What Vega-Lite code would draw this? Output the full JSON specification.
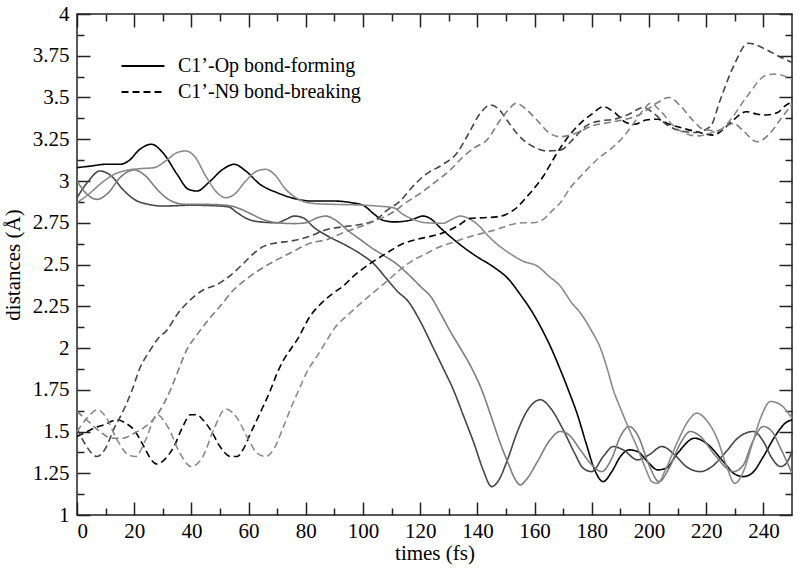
{
  "$schema": "https://vega.github.io/schema/vega-lite/v6.json",
  "width": 715,
  "height": 501,
  "autosize": {"type": "none"},
  "padding": {"left": 77, "top": 14, "right": 8, "bottom": 53},
  "background": "white",
  "config": {
    "view": {"stroke": "#222222", "strokeWidth": 1.5},
    "font": "Liberation Serif",
    "axis": {"domain": false, "grid": false, "tickColor": "#222222", "tickWidth": 1.5, "labelFont": "Liberation Serif", "labelFontSize": 21, "labelColor": "#000000", "titleFont": "Liberation Serif", "titleFontSize": 21, "titleFontWeight": "normal", "titleColor": "#000000"}
  },
  "datasets": {
    "curves": [
      {"run":"C","bond":"Op","t":0,"d":3.08},{"run":"C","bond":"Op","t":5,"d":3.09},{"run":"C","bond":"Op","t":10,"d":3.1},{"run":"C","bond":"Op","t":15,"d":3.1},{"run":"C","bond":"Op","t":18,"d":3.12},{"run":"C","bond":"Op","t":22,"d":3.19},{"run":"C","bond":"Op","t":26,"d":3.22},{"run":"C","bond":"Op","t":30,"d":3.17},{"run":"C","bond":"Op","t":35,"d":3.04},{"run":"C","bond":"Op","t":39,"d":2.95},{"run":"C","bond":"Op","t":42,"d":2.94},{"run":"C","bond":"Op","t":46,"d":2.99},{"run":"C","bond":"Op","t":51,"d":3.07},{"run":"C","bond":"Op","t":55,"d":3.1},{"run":"C","bond":"Op","t":59,"d":3.06},{"run":"C","bond":"Op","t":64,"d":2.98},{"run":"C","bond":"Op","t":70,"d":2.93},{"run":"C","bond":"Op","t":76,"d":2.895},{"run":"C","bond":"Op","t":82,"d":2.88},{"run":"C","bond":"Op","t":90,"d":2.88},{"run":"C","bond":"Op","t":96,"d":2.87},{"run":"C","bond":"Op","t":100,"d":2.855},{"run":"C","bond":"Op","t":104,"d":2.8},{"run":"C","bond":"Op","t":107,"d":2.765},{"run":"C","bond":"Op","t":111,"d":2.755},{"run":"C","bond":"Op","t":116.5,"d":2.765},{"run":"C","bond":"Op","t":121,"d":2.79},{"run":"C","bond":"Op","t":124,"d":2.77},{"run":"C","bond":"Op","t":127,"d":2.72},{"run":"C","bond":"Op","t":131,"d":2.66},{"run":"C","bond":"Op","t":135,"d":2.605},{"run":"C","bond":"Op","t":140,"d":2.545},{"run":"C","bond":"Op","t":145.5,"d":2.487},{"run":"C","bond":"Op","t":151,"d":2.41},{"run":"C","bond":"Op","t":155,"d":2.32},{"run":"C","bond":"Op","t":159,"d":2.22},{"run":"C","bond":"Op","t":162,"d":2.13},{"run":"C","bond":"Op","t":165.5,"d":2.01},{"run":"C","bond":"Op","t":169,"d":1.87},{"run":"C","bond":"Op","t":172,"d":1.74},{"run":"C","bond":"Op","t":175,"d":1.6},{"run":"C","bond":"Op","t":178,"d":1.43},{"run":"C","bond":"Op","t":181,"d":1.27},{"run":"C","bond":"Op","t":184,"d":1.2},{"run":"C","bond":"Op","t":187,"d":1.26},{"run":"C","bond":"Op","t":190,"d":1.35},{"run":"C","bond":"Op","t":193,"d":1.39},{"run":"C","bond":"Op","t":196,"d":1.38},{"run":"C","bond":"Op","t":200,"d":1.31},{"run":"C","bond":"Op","t":203,"d":1.27},{"run":"C","bond":"Op","t":206,"d":1.28},{"run":"C","bond":"Op","t":210,"d":1.37},{"run":"C","bond":"Op","t":216,"d":1.46},{"run":"C","bond":"Op","t":220,"d":1.43},{"run":"C","bond":"Op","t":226,"d":1.32},{"run":"C","bond":"Op","t":230,"d":1.245},{"run":"C","bond":"Op","t":233,"d":1.23},{"run":"C","bond":"Op","t":236,"d":1.25},{"run":"C","bond":"Op","t":240,"d":1.35},{"run":"C","bond":"Op","t":244,"d":1.47},{"run":"C","bond":"Op","t":248,"d":1.555},{"run":"C","bond":"Op","t":250,"d":1.57},
      {"run":"A","bond":"Op","t":0,"d":2.9},{"run":"A","bond":"Op","t":4,"d":3.0},{"run":"A","bond":"Op","t":8,"d":3.06},{"run":"A","bond":"Op","t":12,"d":3.03},{"run":"A","bond":"Op","t":16,"d":2.95},{"run":"A","bond":"Op","t":20,"d":2.89},{"run":"A","bond":"Op","t":25,"d":2.86},{"run":"A","bond":"Op","t":30,"d":2.85},{"run":"A","bond":"Op","t":40,"d":2.855},{"run":"A","bond":"Op","t":50,"d":2.85},{"run":"A","bond":"Op","t":53,"d":2.845},{"run":"A","bond":"Op","t":56,"d":2.81},{"run":"A","bond":"Op","t":60,"d":2.77},{"run":"A","bond":"Op","t":64,"d":2.755},{"run":"A","bond":"Op","t":70,"d":2.75},{"run":"A","bond":"Op","t":73,"d":2.77},{"run":"A","bond":"Op","t":76,"d":2.79},{"run":"A","bond":"Op","t":79,"d":2.78},{"run":"A","bond":"Op","t":83,"d":2.72},{"run":"A","bond":"Op","t":88,"d":2.667},{"run":"A","bond":"Op","t":94,"d":2.615},{"run":"A","bond":"Op","t":99,"d":2.565},{"run":"A","bond":"Op","t":104,"d":2.5},{"run":"A","bond":"Op","t":108,"d":2.42},{"run":"A","bond":"Op","t":112,"d":2.34},{"run":"A","bond":"Op","t":116,"d":2.275},{"run":"A","bond":"Op","t":120,"d":2.16},{"run":"A","bond":"Op","t":124.6,"d":2.0},{"run":"A","bond":"Op","t":128,"d":1.88},{"run":"A","bond":"Op","t":131.6,"d":1.75},{"run":"A","bond":"Op","t":135,"d":1.6},{"run":"A","bond":"Op","t":139,"d":1.42},{"run":"A","bond":"Op","t":142,"d":1.27},{"run":"A","bond":"Op","t":145,"d":1.17},{"run":"A","bond":"Op","t":147.5,"d":1.21},{"run":"A","bond":"Op","t":150.5,"d":1.33},{"run":"A","bond":"Op","t":154,"d":1.5},{"run":"A","bond":"Op","t":158,"d":1.64},{"run":"A","bond":"Op","t":162,"d":1.69},{"run":"A","bond":"Op","t":166,"d":1.63},{"run":"A","bond":"Op","t":170,"d":1.51},{"run":"A","bond":"Op","t":174,"d":1.37},{"run":"A","bond":"Op","t":177,"d":1.28},{"run":"A","bond":"Op","t":180,"d":1.26},{"run":"A","bond":"Op","t":184,"d":1.35},{"run":"A","bond":"Op","t":187.5,"d":1.41},{"run":"A","bond":"Op","t":191,"d":1.39},{"run":"A","bond":"Op","t":196,"d":1.33},{"run":"A","bond":"Op","t":200,"d":1.36},{"run":"A","bond":"Op","t":204.5,"d":1.41},{"run":"A","bond":"Op","t":209,"d":1.36},{"run":"A","bond":"Op","t":213,"d":1.29},{"run":"A","bond":"Op","t":218,"d":1.26},{"run":"A","bond":"Op","t":222,"d":1.29},{"run":"A","bond":"Op","t":227,"d":1.38},{"run":"A","bond":"Op","t":231,"d":1.46},{"run":"A","bond":"Op","t":236.5,"d":1.5},{"run":"A","bond":"Op","t":240,"d":1.44},{"run":"A","bond":"Op","t":243,"d":1.34},{"run":"A","bond":"Op","t":246,"d":1.29},{"run":"A","bond":"Op","t":248,"d":1.31},{"run":"A","bond":"Op","t":250,"d":1.38},
      {"run":"B","bond":"Op","t":0,"d":3.0},{"run":"B","bond":"Op","t":3,"d":2.93},{"run":"B","bond":"Op","t":7,"d":2.89},{"run":"B","bond":"Op","t":11,"d":2.93},{"run":"B","bond":"Op","t":15,"d":3.02},{"run":"B","bond":"Op","t":20,"d":3.066},{"run":"B","bond":"Op","t":24,"d":3.03},{"run":"B","bond":"Op","t":28,"d":2.95},{"run":"B","bond":"Op","t":33,"d":2.88},{"run":"B","bond":"Op","t":38,"d":2.86},{"run":"B","bond":"Op","t":45,"d":2.86},{"run":"B","bond":"Op","t":52,"d":2.855},{"run":"B","bond":"Op","t":56,"d":2.84},{"run":"B","bond":"Op","t":60,"d":2.81},{"run":"B","bond":"Op","t":65,"d":2.77},{"run":"B","bond":"Op","t":70,"d":2.75},{"run":"B","bond":"Op","t":76,"d":2.745},{"run":"B","bond":"Op","t":80,"d":2.75},{"run":"B","bond":"Op","t":84,"d":2.78},{"run":"B","bond":"Op","t":87,"d":2.79},{"run":"B","bond":"Op","t":90,"d":2.77},{"run":"B","bond":"Op","t":95,"d":2.7},{"run":"B","bond":"Op","t":99,"d":2.65},{"run":"B","bond":"Op","t":103,"d":2.6},{"run":"B","bond":"Op","t":107,"d":2.557},{"run":"B","bond":"Op","t":112,"d":2.5},{"run":"B","bond":"Op","t":116.5,"d":2.43},{"run":"B","bond":"Op","t":120,"d":2.37},{"run":"B","bond":"Op","t":124,"d":2.3},{"run":"B","bond":"Op","t":127,"d":2.21},{"run":"B","bond":"Op","t":130.5,"d":2.1},{"run":"B","bond":"Op","t":134,"d":2.0},{"run":"B","bond":"Op","t":138,"d":1.88},{"run":"B","bond":"Op","t":141.5,"d":1.75},{"run":"B","bond":"Op","t":145,"d":1.58},{"run":"B","bond":"Op","t":148,"d":1.43},{"run":"B","bond":"Op","t":151,"d":1.3},{"run":"B","bond":"Op","t":153,"d":1.22},{"run":"B","bond":"Op","t":155,"d":1.18},{"run":"B","bond":"Op","t":157,"d":1.21},{"run":"B","bond":"Op","t":161,"d":1.32},{"run":"B","bond":"Op","t":165,"d":1.44},{"run":"B","bond":"Op","t":169,"d":1.5},{"run":"B","bond":"Op","t":172,"d":1.48},{"run":"B","bond":"Op","t":176,"d":1.39},{"run":"B","bond":"Op","t":180,"d":1.3},{"run":"B","bond":"Op","t":183.5,"d":1.26},{"run":"B","bond":"Op","t":187,"d":1.34},{"run":"B","bond":"Op","t":190,"d":1.47},{"run":"B","bond":"Op","t":193,"d":1.53},{"run":"B","bond":"Op","t":196,"d":1.48},{"run":"B","bond":"Op","t":200,"d":1.3},{"run":"B","bond":"Op","t":203.5,"d":1.2},{"run":"B","bond":"Op","t":207,"d":1.28},{"run":"B","bond":"Op","t":211,"d":1.43},{"run":"B","bond":"Op","t":214.5,"d":1.5},{"run":"B","bond":"Op","t":218,"d":1.47},{"run":"B","bond":"Op","t":223,"d":1.36},{"run":"B","bond":"Op","t":229.5,"d":1.26},{"run":"B","bond":"Op","t":233,"d":1.3},{"run":"B","bond":"Op","t":236,"d":1.43},{"run":"B","bond":"Op","t":240,"d":1.53},{"run":"B","bond":"Op","t":243,"d":1.5},{"run":"B","bond":"Op","t":246,"d":1.4},{"run":"B","bond":"Op","t":250,"d":1.25},
      {"run":"D","bond":"Op","t":0,"d":2.87},{"run":"D","bond":"Op","t":4,"d":2.92},{"run":"D","bond":"Op","t":8,"d":2.98},{"run":"D","bond":"Op","t":13,"d":3.04},{"run":"D","bond":"Op","t":18,"d":3.066},{"run":"D","bond":"Op","t":23,"d":3.075},{"run":"D","bond":"Op","t":27,"d":3.08},{"run":"D","bond":"Op","t":31,"d":3.12},{"run":"D","bond":"Op","t":35,"d":3.17},{"run":"D","bond":"Op","t":38,"d":3.18},{"run":"D","bond":"Op","t":41,"d":3.15},{"run":"D","bond":"Op","t":45,"d":3.03},{"run":"D","bond":"Op","t":49,"d":2.93},{"run":"D","bond":"Op","t":52,"d":2.9},{"run":"D","bond":"Op","t":55,"d":2.92},{"run":"D","bond":"Op","t":59,"d":3.0},{"run":"D","bond":"Op","t":63,"d":3.06},{"run":"D","bond":"Op","t":66,"d":3.07},{"run":"D","bond":"Op","t":69,"d":3.04},{"run":"D","bond":"Op","t":73,"d":2.95},{"run":"D","bond":"Op","t":78,"d":2.886},{"run":"D","bond":"Op","t":83,"d":2.865},{"run":"D","bond":"Op","t":90,"d":2.86},{"run":"D","bond":"Op","t":99,"d":2.856},{"run":"D","bond":"Op","t":105,"d":2.85},{"run":"D","bond":"Op","t":110.6,"d":2.84},{"run":"D","bond":"Op","t":114,"d":2.8},{"run":"D","bond":"Op","t":117.6,"d":2.77},{"run":"D","bond":"Op","t":122,"d":2.75},{"run":"D","bond":"Op","t":128,"d":2.747},{"run":"D","bond":"Op","t":131,"d":2.77},{"run":"D","bond":"Op","t":134,"d":2.79},{"run":"D","bond":"Op","t":137,"d":2.775},{"run":"D","bond":"Op","t":140,"d":2.74},{"run":"D","bond":"Op","t":145,"d":2.65},{"run":"D","bond":"Op","t":151,"d":2.57},{"run":"D","bond":"Op","t":156,"d":2.52},{"run":"D","bond":"Op","t":161,"d":2.49},{"run":"D","bond":"Op","t":165,"d":2.43},{"run":"D","bond":"Op","t":169,"d":2.37},{"run":"D","bond":"Op","t":173,"d":2.27},{"run":"D","bond":"Op","t":176,"d":2.21},{"run":"D","bond":"Op","t":180,"d":2.1},{"run":"D","bond":"Op","t":183,"d":2.0},{"run":"D","bond":"Op","t":185.5,"d":1.87},{"run":"D","bond":"Op","t":187.5,"d":1.75},{"run":"D","bond":"Op","t":190,"d":1.64},{"run":"D","bond":"Op","t":193.4,"d":1.5},{"run":"D","bond":"Op","t":196,"d":1.4},{"run":"D","bond":"Op","t":199,"d":1.27},{"run":"D","bond":"Op","t":201,"d":1.2},{"run":"D","bond":"Op","t":203,"d":1.19},{"run":"D","bond":"Op","t":206,"d":1.28},{"run":"D","bond":"Op","t":210,"d":1.44},{"run":"D","bond":"Op","t":214,"d":1.57},{"run":"D","bond":"Op","t":216.7,"d":1.61},{"run":"D","bond":"Op","t":220,"d":1.57},{"run":"D","bond":"Op","t":224,"d":1.45},{"run":"D","bond":"Op","t":227,"d":1.3},{"run":"D","bond":"Op","t":230,"d":1.19},{"run":"D","bond":"Op","t":233,"d":1.26},{"run":"D","bond":"Op","t":236,"d":1.42},{"run":"D","bond":"Op","t":239,"d":1.58},{"run":"D","bond":"Op","t":242.5,"d":1.68},{"run":"D","bond":"Op","t":246,"d":1.66},{"run":"D","bond":"Op","t":250,"d":1.58},
      {"run":"C","bond":"N9","t":0,"d":1.47},{"run":"C","bond":"N9","t":2.4,"d":1.49},{"run":"C","bond":"N9","t":6,"d":1.52},{"run":"C","bond":"N9","t":9.4,"d":1.54},{"run":"C","bond":"N9","t":14.1,"d":1.57},{"run":"C","bond":"N9","t":17,"d":1.55},{"run":"C","bond":"N9","t":19.9,"d":1.51},{"run":"C","bond":"N9","t":23.4,"d":1.41},{"run":"C","bond":"N9","t":26,"d":1.33},{"run":"C","bond":"N9","t":28,"d":1.305},{"run":"C","bond":"N9","t":30.5,"d":1.33},{"run":"C","bond":"N9","t":33.9,"d":1.41},{"run":"C","bond":"N9","t":37,"d":1.53},{"run":"C","bond":"N9","t":39.7,"d":1.6},{"run":"C","bond":"N9","t":42,"d":1.6},{"run":"C","bond":"N9","t":44,"d":1.57},{"run":"C","bond":"N9","t":46.7,"d":1.51},{"run":"C","bond":"N9","t":50,"d":1.41},{"run":"C","bond":"N9","t":53.7,"d":1.35},{"run":"C","bond":"N9","t":56,"d":1.35},{"run":"C","bond":"N9","t":58,"d":1.39},{"run":"C","bond":"N9","t":60.7,"d":1.49},{"run":"C","bond":"N9","t":64,"d":1.61},{"run":"C","bond":"N9","t":67.7,"d":1.75},{"run":"C","bond":"N9","t":70,"d":1.85},{"run":"C","bond":"N9","t":72.3,"d":1.93},{"run":"C","bond":"N9","t":75,"d":2.0},{"run":"C","bond":"N9","t":77,"d":2.05},{"run":"C","bond":"N9","t":81.5,"d":2.19},{"run":"C","bond":"N9","t":86.2,"d":2.28},{"run":"C","bond":"N9","t":89.7,"d":2.33},{"run":"C","bond":"N9","t":93,"d":2.37},{"run":"C","bond":"N9","t":96.7,"d":2.43},{"run":"C","bond":"N9","t":102,"d":2.5},{"run":"C","bond":"N9","t":108.4,"d":2.57},{"run":"C","bond":"N9","t":113,"d":2.617},{"run":"C","bond":"N9","t":118.8,"d":2.65},{"run":"C","bond":"N9","t":124,"d":2.67},{"run":"C","bond":"N9","t":128.1,"d":2.69},{"run":"C","bond":"N9","t":133,"d":2.73},{"run":"C","bond":"N9","t":137.5,"d":2.776},{"run":"C","bond":"N9","t":142,"d":2.78},{"run":"C","bond":"N9","t":146.8,"d":2.785},{"run":"C","bond":"N9","t":150,"d":2.8},{"run":"C","bond":"N9","t":153,"d":2.83},{"run":"C","bond":"N9","t":157.3,"d":2.906},{"run":"C","bond":"N9","t":160,"d":2.96},{"run":"C","bond":"N9","t":163.1,"d":3.03},{"run":"C","bond":"N9","t":165.5,"d":3.1},{"run":"C","bond":"N9","t":167.8,"d":3.166},{"run":"C","bond":"N9","t":172,"d":3.27},{"run":"C","bond":"N9","t":176,"d":3.345},{"run":"C","bond":"N9","t":180,"d":3.4},{"run":"C","bond":"N9","t":184,"d":3.445},{"run":"C","bond":"N9","t":188,"d":3.41},{"run":"C","bond":"N9","t":192,"d":3.35},{"run":"C","bond":"N9","t":195,"d":3.34},{"run":"C","bond":"N9","t":199,"d":3.365},{"run":"C","bond":"N9","t":203,"d":3.37},{"run":"C","bond":"N9","t":207,"d":3.34},{"run":"C","bond":"N9","t":211,"d":3.32},{"run":"C","bond":"N9","t":216.7,"d":3.295},{"run":"C","bond":"N9","t":222.5,"d":3.275},{"run":"C","bond":"N9","t":226,"d":3.31},{"run":"C","bond":"N9","t":229.5,"d":3.365},{"run":"C","bond":"N9","t":234,"d":3.415},{"run":"C","bond":"N9","t":238,"d":3.4},{"run":"C","bond":"N9","t":241,"d":3.395},{"run":"C","bond":"N9","t":245,"d":3.41},{"run":"C","bond":"N9","t":248,"d":3.455},{"run":"C","bond":"N9","t":250,"d":3.47},
      {"run":"A","bond":"N9","t":0,"d":1.52},{"run":"A","bond":"N9","t":3,"d":1.42},{"run":"A","bond":"N9","t":7,"d":1.35},{"run":"A","bond":"N9","t":10,"d":1.4},{"run":"A","bond":"N9","t":13,"d":1.52},{"run":"A","bond":"N9","t":15.2,"d":1.59},{"run":"A","bond":"N9","t":19.3,"d":1.75},{"run":"A","bond":"N9","t":22,"d":1.88},{"run":"A","bond":"N9","t":25.7,"d":1.99},{"run":"A","bond":"N9","t":28,"d":2.05},{"run":"A","bond":"N9","t":31.6,"d":2.11},{"run":"A","bond":"N9","t":35,"d":2.2},{"run":"A","bond":"N9","t":39.7,"d":2.29},{"run":"A","bond":"N9","t":44.4,"d":2.35},{"run":"A","bond":"N9","t":49,"d":2.38},{"run":"A","bond":"N9","t":54,"d":2.44},{"run":"A","bond":"N9","t":58.4,"d":2.51},{"run":"A","bond":"N9","t":62,"d":2.57},{"run":"A","bond":"N9","t":65.4,"d":2.61},{"run":"A","bond":"N9","t":70,"d":2.63},{"run":"A","bond":"N9","t":74.7,"d":2.64},{"run":"A","bond":"N9","t":81.5,"d":2.67},{"run":"A","bond":"N9","t":87.5,"d":2.71},{"run":"A","bond":"N9","t":93.2,"d":2.726},{"run":"A","bond":"N9","t":99,"d":2.74},{"run":"A","bond":"N9","t":104.8,"d":2.77},{"run":"A","bond":"N9","t":108,"d":2.82},{"run":"A","bond":"N9","t":113,"d":2.88},{"run":"A","bond":"N9","t":117,"d":2.96},{"run":"A","bond":"N9","t":122,"d":3.04},{"run":"A","bond":"N9","t":128,"d":3.1},{"run":"A","bond":"N9","t":132.8,"d":3.166},{"run":"A","bond":"N9","t":136.3,"d":3.265},{"run":"A","bond":"N9","t":141,"d":3.405},{"run":"A","bond":"N9","t":144.5,"d":3.455},{"run":"A","bond":"N9","t":147.5,"d":3.43},{"run":"A","bond":"N9","t":150.3,"d":3.365},{"run":"A","bond":"N9","t":153.8,"d":3.285},{"run":"A","bond":"N9","t":156.1,"d":3.245},{"run":"A","bond":"N9","t":159.6,"d":3.205},{"run":"A","bond":"N9","t":164.3,"d":3.18},{"run":"A","bond":"N9","t":169,"d":3.185},{"run":"A","bond":"N9","t":174,"d":3.26},{"run":"A","bond":"N9","t":178,"d":3.33},{"run":"A","bond":"N9","t":183,"d":3.36},{"run":"A","bond":"N9","t":188,"d":3.37},{"run":"A","bond":"N9","t":193,"d":3.4},{"run":"A","bond":"N9","t":198,"d":3.44},{"run":"A","bond":"N9","t":202,"d":3.4},{"run":"A","bond":"N9","t":206,"d":3.34},{"run":"A","bond":"N9","t":211,"d":3.3},{"run":"A","bond":"N9","t":216,"d":3.29},{"run":"A","bond":"N9","t":221.4,"d":3.325},{"run":"A","bond":"N9","t":224.9,"d":3.485},{"run":"A","bond":"N9","t":229.5,"d":3.685},{"run":"A","bond":"N9","t":234.7,"d":3.825},{"run":"A","bond":"N9","t":241.2,"d":3.785},{"run":"A","bond":"N9","t":245,"d":3.75},{"run":"A","bond":"N9","t":250,"d":3.71},
      {"run":"B","bond":"N9","t":0,"d":1.62},{"run":"B","bond":"N9","t":4,"d":1.56},{"run":"B","bond":"N9","t":8,"d":1.5},{"run":"B","bond":"N9","t":12,"d":1.46},{"run":"B","bond":"N9","t":16,"d":1.46},{"run":"B","bond":"N9","t":20,"d":1.49},{"run":"B","bond":"N9","t":24,"d":1.53},{"run":"B","bond":"N9","t":28,"d":1.6},{"run":"B","bond":"N9","t":32.7,"d":1.75},{"run":"B","bond":"N9","t":35.5,"d":1.87},{"run":"B","bond":"N9","t":38.4,"d":1.99},{"run":"B","bond":"N9","t":42,"d":2.08},{"run":"B","bond":"N9","t":46,"d":2.17},{"run":"B","bond":"N9","t":50,"d":2.25},{"run":"B","bond":"N9","t":54.9,"d":2.35},{"run":"B","bond":"N9","t":59,"d":2.41},{"run":"B","bond":"N9","t":64,"d":2.47},{"run":"B","bond":"N9","t":69,"d":2.52},{"run":"B","bond":"N9","t":74.7,"d":2.57},{"run":"B","bond":"N9","t":81.5,"d":2.627},{"run":"B","bond":"N9","t":87.5,"d":2.65},{"run":"B","bond":"N9","t":93,"d":2.69},{"run":"B","bond":"N9","t":99,"d":2.726},{"run":"B","bond":"N9","t":104,"d":2.76},{"run":"B","bond":"N9","t":110.7,"d":2.816},{"run":"B","bond":"N9","t":115,"d":2.87},{"run":"B","bond":"N9","t":120,"d":2.926},{"run":"B","bond":"N9","t":125,"d":2.99},{"run":"B","bond":"N9","t":130.5,"d":3.066},{"run":"B","bond":"N9","t":135.1,"d":3.146},{"run":"B","bond":"N9","t":139,"d":3.2},{"run":"B","bond":"N9","t":143.3,"d":3.245},{"run":"B","bond":"N9","t":148,"d":3.365},{"run":"B","bond":"N9","t":151,"d":3.43},{"run":"B","bond":"N9","t":153.5,"d":3.465},{"run":"B","bond":"N9","t":157,"d":3.43},{"run":"B","bond":"N9","t":160.8,"d":3.365},{"run":"B","bond":"N9","t":165,"d":3.29},{"run":"B","bond":"N9","t":169,"d":3.265},{"run":"B","bond":"N9","t":175,"d":3.29},{"run":"B","bond":"N9","t":180,"d":3.33},{"run":"B","bond":"N9","t":186,"d":3.35},{"run":"B","bond":"N9","t":192,"d":3.37},{"run":"B","bond":"N9","t":197,"d":3.4},{"run":"B","bond":"N9","t":203,"d":3.47},{"run":"B","bond":"N9","t":207,"d":3.5},{"run":"B","bond":"N9","t":211,"d":3.45},{"run":"B","bond":"N9","t":215,"d":3.37},{"run":"B","bond":"N9","t":219,"d":3.31},{"run":"B","bond":"N9","t":224,"d":3.3},{"run":"B","bond":"N9","t":229.5,"d":3.345},{"run":"B","bond":"N9","t":233,"d":3.3},{"run":"B","bond":"N9","t":237.7,"d":3.235},{"run":"B","bond":"N9","t":242,"d":3.28},{"run":"B","bond":"N9","t":246,"d":3.37},{"run":"B","bond":"N9","t":250,"d":3.46},
      {"run":"D","bond":"N9","t":0,"d":1.5},{"run":"D","bond":"N9","t":3.5,"d":1.58},{"run":"D","bond":"N9","t":7,"d":1.63},{"run":"D","bond":"N9","t":10,"d":1.59},{"run":"D","bond":"N9","t":14,"d":1.45},{"run":"D","bond":"N9","t":18,"d":1.36},{"run":"D","bond":"N9","t":20.5,"d":1.35},{"run":"D","bond":"N9","t":24,"d":1.45},{"run":"D","bond":"N9","t":28,"d":1.6},{"run":"D","bond":"N9","t":32,"d":1.52},{"run":"D","bond":"N9","t":36,"d":1.37},{"run":"D","bond":"N9","t":40,"d":1.29},{"run":"D","bond":"N9","t":44,"d":1.35},{"run":"D","bond":"N9","t":48,"d":1.52},{"run":"D","bond":"N9","t":52,"d":1.635},{"run":"D","bond":"N9","t":56,"d":1.58},{"run":"D","bond":"N9","t":60,"d":1.45},{"run":"D","bond":"N9","t":63,"d":1.37},{"run":"D","bond":"N9","t":66,"d":1.35},{"run":"D","bond":"N9","t":69,"d":1.4},{"run":"D","bond":"N9","t":72,"d":1.52},{"run":"D","bond":"N9","t":75,"d":1.65},{"run":"D","bond":"N9","t":77.6,"d":1.75},{"run":"D","bond":"N9","t":80.5,"d":1.86},{"run":"D","bond":"N9","t":83.9,"d":1.95},{"run":"D","bond":"N9","t":87.5,"d":2.05},{"run":"D","bond":"N9","t":89.7,"d":2.11},{"run":"D","bond":"N9","t":95.5,"d":2.21},{"run":"D","bond":"N9","t":101.4,"d":2.3},{"run":"D","bond":"N9","t":108.4,"d":2.4},{"run":"D","bond":"N9","t":113,"d":2.47},{"run":"D","bond":"N9","t":118,"d":2.53},{"run":"D","bond":"N9","t":122.3,"d":2.567},{"run":"D","bond":"N9","t":126,"d":2.6},{"run":"D","bond":"N9","t":130.5,"d":2.627},{"run":"D","bond":"N9","t":138,"d":2.67},{"run":"D","bond":"N9","t":146.8,"d":2.71},{"run":"D","bond":"N9","t":152,"d":2.74},{"run":"D","bond":"N9","t":156.1,"d":2.75},{"run":"D","bond":"N9","t":159.6,"d":2.75},{"run":"D","bond":"N9","t":163,"d":2.77},{"run":"D","bond":"N9","t":166,"d":2.82},{"run":"D","bond":"N9","t":169,"d":2.87},{"run":"D","bond":"N9","t":172.5,"d":2.96},{"run":"D","bond":"N9","t":176,"d":3.026},{"run":"D","bond":"N9","t":179.5,"d":3.09},{"run":"D","bond":"N9","t":183,"d":3.145},{"run":"D","bond":"N9","t":186.5,"d":3.19},{"run":"D","bond":"N9","t":190,"d":3.245},{"run":"D","bond":"N9","t":194,"d":3.33},{"run":"D","bond":"N9","t":198,"d":3.425},{"run":"D","bond":"N9","t":200.4,"d":3.465},{"run":"D","bond":"N9","t":204,"d":3.42},{"run":"D","bond":"N9","t":208,"d":3.34},{"run":"D","bond":"N9","t":212,"d":3.29},{"run":"D","bond":"N9","t":217,"d":3.27},{"run":"D","bond":"N9","t":222,"d":3.29},{"run":"D","bond":"N9","t":226,"d":3.32},{"run":"D","bond":"N9","t":228.4,"d":3.365},{"run":"D","bond":"N9","t":234.2,"d":3.505},{"run":"D","bond":"N9","t":241.2,"d":3.635},{"run":"D","bond":"N9","t":244,"d":3.64},{"run":"D","bond":"N9","t":250,"d":3.61}
    ]
  },
  "layer": [
    {
      "data": {"name": "curves"},
      "mark": {"type": "line", "interpolate": "monotone"},
      "encoding": {
        "x": {"field": "t", "type": "quantitative", "scale": {"domain": [0, 250], "nice": false, "zero": false},
              "axis": {"orient": "bottom", "values": [0,20,40,60,80,100,120,140,160,180,200,220,240], "tickSize": -13, "labelPadding": 18, "title": "times (fs)", "titlePadding": 1}},
        "y": {"field": "d", "type": "quantitative", "scale": {"domain": [1, 4], "nice": false, "zero": false},
              "axis": {"orient": "left", "values": [1,1.25,1.5,1.75,2,2.25,2.5,2.75,3,3.25,3.5,3.75,4], "tickSize": -13, "labelPadding": 21, "labelExpr": "'' + datum.value", "title": "distances (Å)", "titlePadding": 9}},
        "color": {"field": "run", "type": "nominal", "scale": {"domain": ["A","B","C","D"], "range": ["#454545","#7d7d7d","#000000","#8a8a8a"]}, "legend": null},
        "strokeWidth": {"field": "run", "type": "nominal", "scale": {"domain": ["A","B","C","D"], "range": [1.6,1.6,2.1,1.6]}, "legend": null},
        "strokeDash": {"field": "bond", "type": "nominal", "scale": {"domain": ["Op","N9"], "range": [[1,0],[7,4]]},
          "legend": {"orient": "none", "legendX": 54, "legendY": 40, "title": null, "symbolType": "M-2,0H2", "symbolSize": 462, "symbolStrokeColor": "#000000", "symbolStrokeWidth": 2, "labelFont": "Liberation Serif", "labelFontSize": 20, "labelColor": "#000000", "labelLimit": 0, "labelOffset": 23, "rowPadding": 4, "padding": 0,
            "labelExpr": "datum.value == 'Op' ? 'C1’-Op bond-forming' : 'C1’-N9 bond-breaking'"}}
      }
    },
    {
      "mark": {"type": "rule", "color": "#808080", "strokeWidth": 1.5},
      "encoding": {
        "y": {"datum": 1.75, "type": "quantitative", "scale": {"domain": [1, 4], "nice": false, "zero": false},
              "axis": {"orient": "left", "values": [1.125,1.375,1.625,1.875,2.125,2.375,2.625,2.875,3.125,3.375,3.625,3.875], "tickSize": -7, "labels": false, "title": null}}
      }
    },
    {
      "data": {"values": [{}]},
      "mark": {"type": "point", "opacity": 0},
      "encoding": {
        "x": {"datum": 0, "type": "quantitative", "scale": {"domain": [0, 250], "nice": false, "zero": false},
              "axis": {"orient": "bottom", "values": [10,30,50,70,90,110,130,150,170,190,210,230], "tickSize": -7, "labels": false, "title": null}},
        "y": {"datum": 1, "type": "quantitative", "scale": {"domain": [1, 4], "nice": false, "zero": false},
              "axis": {"orient": "right", "values": [1,1.25,1.5,1.75,2,2.25,2.5,2.75,3,3.25,3.5,3.75,4], "tickSize": -13, "labels": false, "title": null}}
      }
    },
    {
      "data": {"values": [{}]},
      "mark": {"type": "point", "opacity": 0},
      "encoding": {
        "x": {"datum": 0, "type": "quantitative", "scale": {"domain": [0, 250], "nice": false, "zero": false},
              "axis": {"orient": "top", "values": [0,20,40,60,80,100,120,140,160,180,200,220,240], "tickSize": -13, "labels": false, "title": null}},
        "y": {"datum": 1, "type": "quantitative", "scale": {"domain": [1, 4], "nice": false, "zero": false},
              "axis": {"orient": "right", "values": [1.125,1.375,1.625,1.875,2.125,2.375,2.625,2.875,3.125,3.375,3.625,3.875], "tickSize": -7, "labels": false, "title": null}}
      }
    },
    {
      "data": {"values": [{}]},
      "mark": {"type": "point", "opacity": 0},
      "encoding": {
        "x": {"datum": 0, "type": "quantitative", "scale": {"domain": [0, 250], "nice": false, "zero": false},
              "axis": {"orient": "top", "values": [10,30,50,70,90,110,130,150,170,190,210,230], "tickSize": -7, "labels": false, "title": null}}
      }
    }
  ],
  "resolve": {"axis": {"x": "independent", "y": "independent"}}
}
